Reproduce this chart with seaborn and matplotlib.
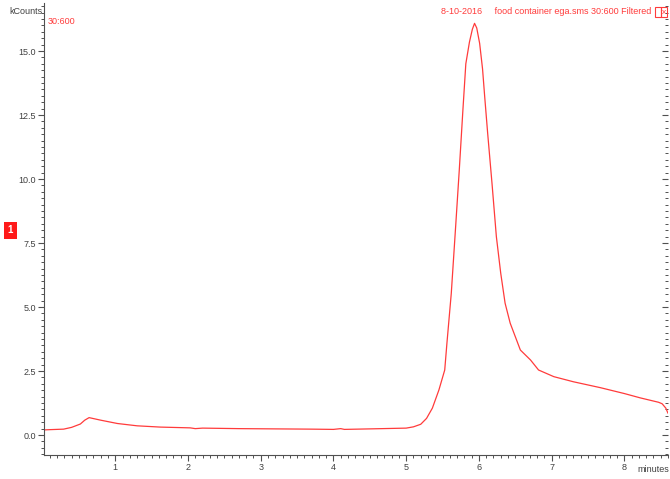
import matplotlib
matplotlib.use('Agg')
import matplotlib.pyplot as plt
from matplotlib.ticker import MultipleLocator, FormatStrFormatter
from matplotlib.patches import Rectangle
import seaborn as sns
import pandas as pd

# chromatogram trace (minutes, kCounts)
minutes = [0.02, 0.10, 0.29, 0.40, 0.52, 0.58, 0.64, 0.80, 1.03, 1.30, 1.62,
           2.03, 2.10, 2.20, 2.70, 3.20, 3.70, 4.00, 4.10, 4.15, 4.50, 5.00,
           5.10, 5.20, 5.28, 5.36, 5.45, 5.53, 5.56, 5.62, 5.68, 5.73, 5.78,
           5.82, 5.87, 5.91, 5.94, 5.97, 6.01, 6.05, 6.08, 6.12, 6.18, 6.24,
           6.30, 6.36, 6.43, 6.57, 6.71, 6.82, 7.03, 7.30, 7.67, 8.00, 8.22,
           8.47, 8.52, 8.57, 8.60]
kcounts = [0.20, 0.21, 0.23, 0.30, 0.43, 0.58, 0.68, 0.58, 0.45, 0.36, 0.31,
           0.28, 0.25, 0.27, 0.25, 0.24, 0.23, 0.22, 0.25, 0.22, 0.24, 0.27,
           0.32, 0.42, 0.65, 1.05, 1.76, 2.54, 3.58, 5.53, 8.14, 10.35, 12.7,
           14.5, 15.35, 15.85, 16.08, 15.9, 15.3, 14.3, 13.2, 11.8, 9.83, 7.75,
           6.32, 5.15, 4.37, 3.32, 2.93, 2.54, 2.28, 2.08, 1.85, 1.62, 1.45,
           1.28, 1.22, 1.05, 0.85]
x_ticks = [1, 2, 3, 4, 5, 6, 7, 8]
y_ticks = [0.0, 2.5, 5.0, 7.5, 10.0, 12.5, 15.0]

df = pd.DataFrame({'minutes': minutes, 'kCounts': kcounts})

sns.set_style('white')
plt.rcParams['font.family'] = ['Liberation Sans', 'DejaVu Sans']

W, H = 670, 479
fig = plt.figure(figsize=(W / 100, H / 100), dpi=100)
ax = fig.add_axes([44 / W, 1 - 455 / H, (668 - 44) / W, (455 - 3) / H])

sns.lineplot(data=df, x='minutes', y='kCounts', color='#ff3b3b',
             linewidth=0.9, ax=ax)

ax.set_xlim(0.02, 8.6)
ax.set_ylim(-0.78, 16.875)
ax.set_xlabel('')
ax.set_ylabel('')

ax.set_xticks(x_ticks)
ax.set_yticks(y_ticks)
ax.yaxis.set_major_formatter(FormatStrFormatter('%.1f'))
ax.xaxis.set_minor_locator(MultipleLocator(0.1))
ax.yaxis.set_minor_locator(MultipleLocator(0.25))

gray = '#505050'
for s in ['top', 'right']:
    ax.spines[s].set_visible(False)
for s in ['left', 'bottom']:
    ax.spines[s].set_color(gray)
    ax.spines[s].set_linewidth(0.8)

ax.tick_params(axis='both', which='major', length=4, width=0.8, color=gray,
               labelsize=6.5, labelcolor='#404040', pad=2)
ax.tick_params(axis='both', which='minor', length=2, width=0.7, color=gray)
ax.tick_params(axis='y', which='both', right=True, direction='out')
ax.tick_params(axis='x', which='both', bottom=True, direction='out')
ax.tick_params(axis='y', which='both', left=True, labelleft=True)
# right-side ticks pointing inward
for t in ax.yaxis.get_major_ticks() + ax.yaxis.get_minor_ticks():
    t.tick2line.set_marker(0)

fig.text(42 / W, 1 - 11 / H, 'kCounts', ha='right', va='center',
         fontsize=6.5, color='#404040')
fig.text(48 / W, 1 - 21 / H, '30:600', ha='left', va='center',
         fontsize=6.5, color='#ff3b3b')
fig.text(651 / W, 1 - 12 / H,
         '8-10-2016     food container ega.sms 30:600 Filtered',
         ha='right', va='center', fontsize=6.5, color='#ff3b3b')
fig.patches.append(Rectangle((655 / W, 1 - 17 / H), 6 / W, 10 / H,
                             transform=fig.transFigure, fill=False,
                             edgecolor='#ff3b3b', linewidth=0.8))
fig.patches.append(Rectangle((661 / W, 1 - 17 / H), 6 / W, 10 / H,
                             transform=fig.transFigure, fill=False,
                             edgecolor='#ff3b3b', linewidth=0.8))
fig.text(664 / W, 1 - 12 / H, 'x', ha='center', va='center',
         fontsize=6, color='#ff3b3b')
fig.text(10.5 / W, 1 - 230.5 / H, '1', ha='center', va='center', fontsize=7,
         color='white', fontweight='bold',
         bbox=dict(boxstyle='square,pad=0.35', facecolor='#ff1a1a',
                   edgecolor='none'))
fig.text(669 / W, 1 - 470 / H, 'minutes', ha='right', va='center',
         fontsize=6.5, color='#404040')

fig.savefig('out.png', dpi=100)
